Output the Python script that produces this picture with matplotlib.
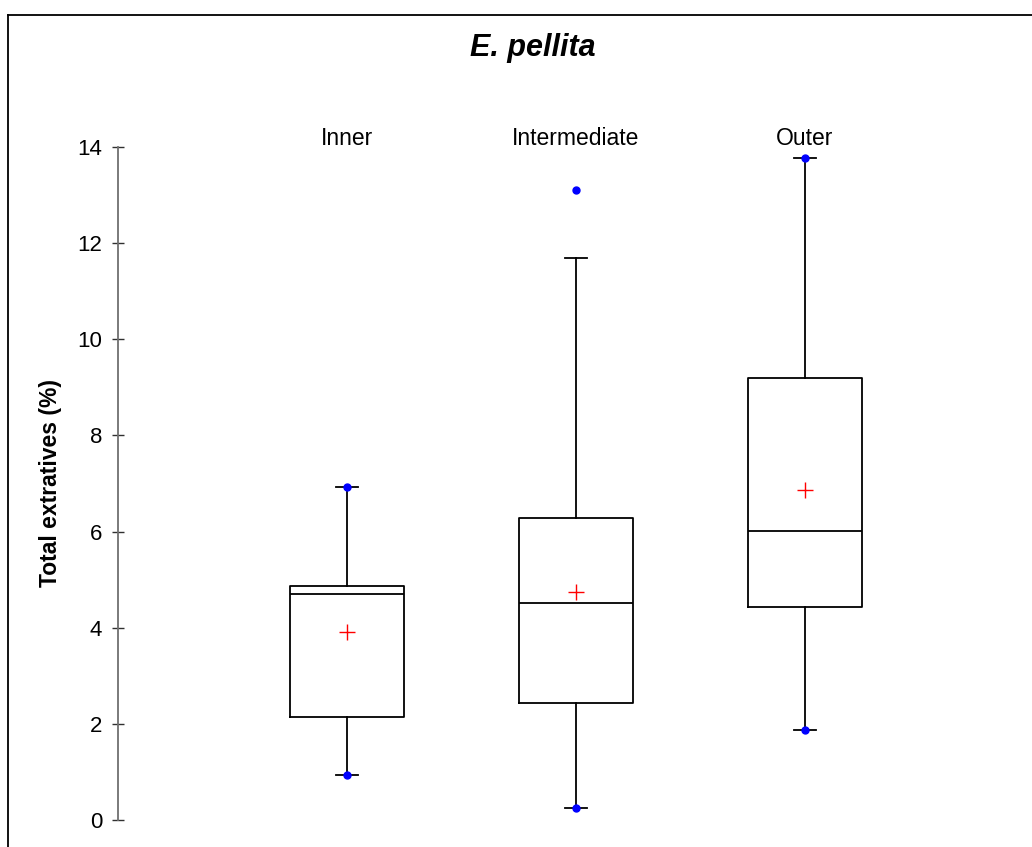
import matplotlib
matplotlib.use("Agg")
import matplotlib.pyplot as plt
from matplotlib.lines import Line2D

plt.rcParams['font.family'] = ['Liberation Sans', 'DejaVu Sans']

categories = ["Inner", "Intermediate", "Outer"]
q1 = [2.14, 2.43, 4.43]
median = [4.70, 4.51, 6.01]
q3 = [4.87, 6.28, 9.19]
whisker_low = [0.94, 0.25, 1.87]
whisker_high = [6.92, 11.69, 13.77]
means = [3.91, 4.74, 6.86]
fliers = [[], [13.10], []]
data_min = [0.94, 0.25, 1.87]
data_max = [6.92, 13.10, 13.77]
yticks = [0, 2, 4, 6, 8, 10, 12, 14]

W, H = 1032, 847
fig = plt.figure(figsize=(W / 100, H / 100), dpi=100)
ax = fig.add_axes([118 / W, (H - 820) / H, 916 / W, (820 - 147) / H])

positions = [1, 2, 3]
stats = []
for i, c in enumerate(categories):
    stats.append(dict(label=c, q1=q1[i], med=median[i], q3=q3[i],
                      whislo=whisker_low[i], whishi=whisker_high[i],
                      mean=means[i], fliers=fliers[i]))

lw = 1.3
ax.bxp(stats, positions=positions, widths=0.5, capwidths=0.1,
       showmeans=True, showfliers=False, manage_ticks=False,
       boxprops=dict(color='black', linewidth=lw),
       medianprops=dict(color='black', linewidth=lw),
       whiskerprops=dict(color='black', linewidth=lw),
       capprops=dict(color='black', linewidth=lw),
       meanprops=dict(marker='+', markeredgecolor='red', markersize=11,
                      markeredgewidth=1.0, linestyle='none'))

for i, p in enumerate(positions):
    ax.plot([p, p], [data_min[i], data_max[i]], linestyle='none', marker='o',
            color='blue', markersize=5, zorder=5, clip_on=False)
    ax.text(p, 14.05, categories[i], ha='center', va='baseline', fontsize=16.5)

ax.set_xlim(0, 4)
ax.set_ylim(0, 14)
ax.set_yticks(yticks)
ax.set_yticklabels([str(t) for t in yticks])
ax.set_xticks([])
for s in ['top', 'right', 'bottom']:
    ax.spines[s].set_visible(False)
ax.spines['left'].set_color('#707070')
ax.spines['left'].set_linewidth(1.3)
ax.tick_params(axis='y', direction='inout', length=9, width=1.0,
               color='#303030', labelsize=16, pad=7)
ax.patch.set_alpha(0)

fig.text(51 / W, 1 - 483 / H, "Total extratives (%)", rotation=90,
         ha='center', va='center', fontsize=16.5, fontweight='bold')
fig.text(533 / W, 1 - 56 / H, "E. pellita", ha='center', va='baseline',
         fontsize=22, fontweight='bold', fontstyle='italic')

fig.add_artist(Line2D([8 / W, 8 / W], [0, 1 - 15 / H], transform=fig.transFigure,
                      color='black', linewidth=1.3))
fig.add_artist(Line2D([8 / W, 1], [1 - 15 / H, 1 - 15 / H], transform=fig.transFigure,
                      color='black', linewidth=1.3))

fig.savefig("out.png", dpi=100)
